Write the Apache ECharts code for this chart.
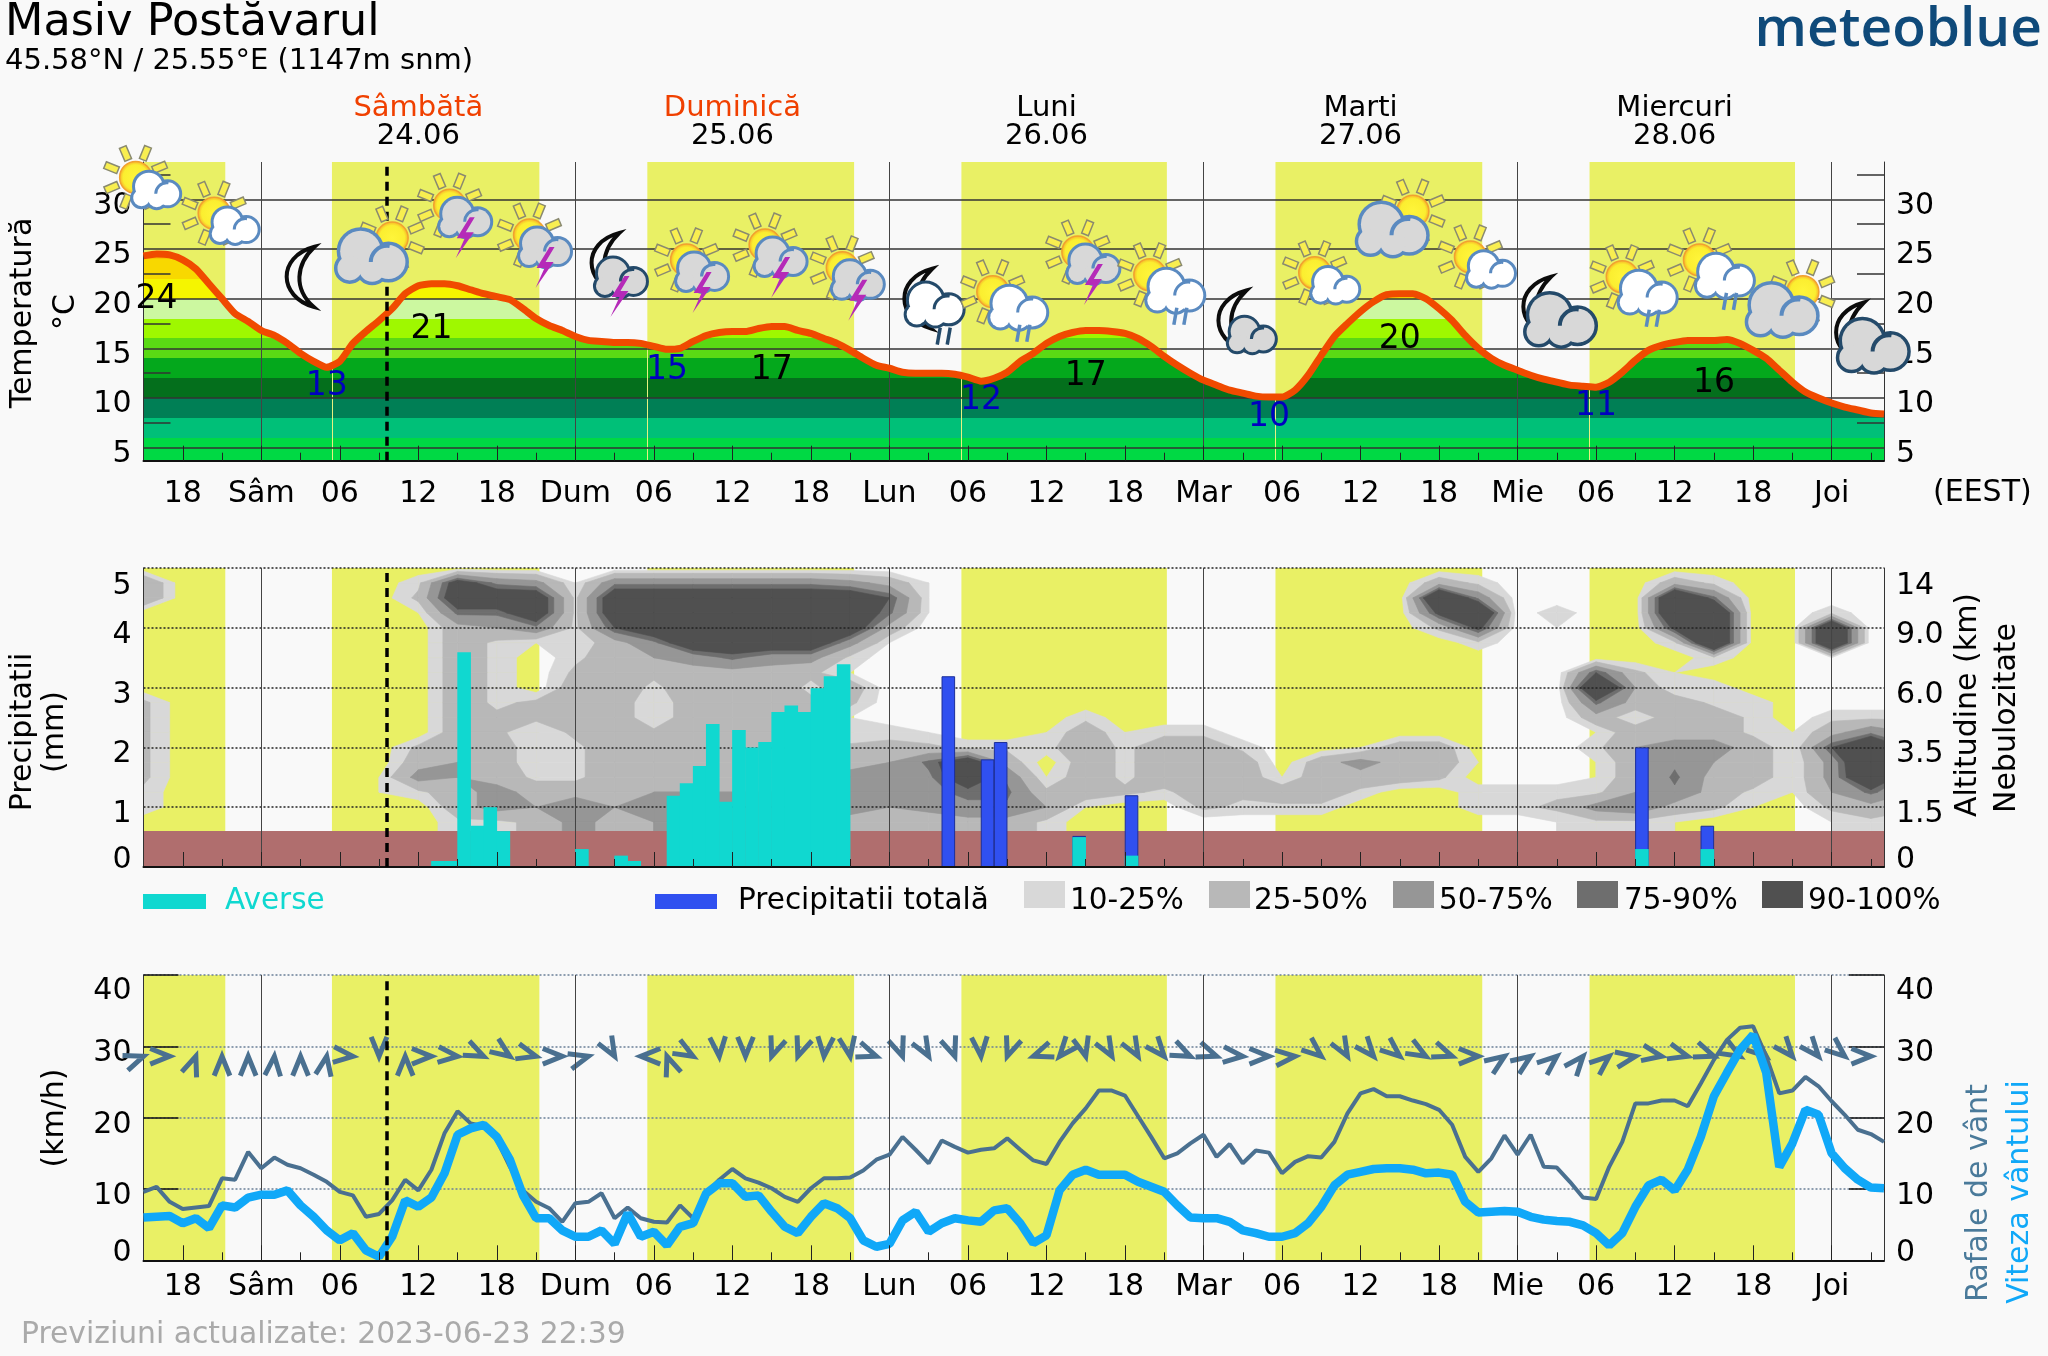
<!DOCTYPE html>
<html><head><meta charset="utf-8">
<style>html,body{margin:0;padding:0;background:#f9f9f9}#c{width:2048px;height:1356px}</style>
<script src="https://cdn.jsdelivr.net/npm/echarts@6/dist/echarts.min.js"></script>
</head><body><div id="c"></div>
<script>
const FONT='"DejaVu Sans"';
const firstHour=15, lastHour=148;
const tickHours=[18,24,30,36,42,48,54,60,66,72,78,84,90,96,102,108,114,120,126,132,138,144];
const tickNames=["18","Sâm","06","12","18","Dum","06","12","18","Lun","06","12","18","Mar","06","12","18","Mie","06","12","18","Joi"];
const minorHours=[21,27,33,39,45,51,57,63,69,75,81,87,93,99,105,111,117,123,129,135,141,147];
const dayHours=[24,48,72,96,120,144];
const nowHour=33.6;
const daylight=[[15,21.25],[29.4,45.25],[53.5,69.3],[77.5,93.2],[101.5,117.3],[125.5,141.2]];
const sunrise=[29.4,53.5,77.5,101.5,125.5];
const headerHours=[36,60,84,108,132];
const headerDays=["Sâmbătă","Duminică","Luni","Marti","Miercuri"];
const headerDates=["24.06","25.06","26.06","27.06","28.06"];
const headerColors=["#f04000","#f04000","#000","#000","#000"];

const temperature=[24.3,24.5,24.4,23.9,23,21.5,20,18.5,17.7,16.8,
16.3,15.5,14.5,13.7,13.1,13.7,15.5,16.7,17.8,19,
20.5,21.3,21.5,21.5,21.3,20.9,20.5,20.2,19.9,19,
18,17.3,16.8,16.2,15.8,15.7,15.6,15.6,15.5,15.2,
14.9,15,15.7,16.3,16.6,16.7,16.7,17,17.2,17.2,
16.8,16.5,16,15.5,14.8,14,13.3,13,12.6,12.5,
12.5,12.5,12.4,12.1,11.7,12,12.6,13.7,14.5,15.5,
16.2,16.6,16.8,16.8,16.7,16.5,16,15.2,14.2,13.3,
12.5,11.8,11.3,10.8,10.5,10.2,10.1,10.1,10.8,12.3,
14.3,16.2,17.5,18.7,19.7,20.4,20.5,20.5,20,19,
17.8,16.3,15,14,13.3,12.8,12.3,11.9,11.6,11.3,
11.2,11.1,11.6,12.6,13.8,14.8,15.3,15.6,15.8,15.8,
15.8,15.9,15.5,14.8,14,12.8,11.6,10.6,10,9.5,
9.1,8.8,8.5,8.4];
const tempEdges=[6,8,10,12,14,16,18,20,22,24];
const tempColors=["#00d944","#00c078","#007f55","#046f1c","#04a81c","#5ada14","#9ff800","#ccf8a0","#f5f500","#f8d800","#f8c400"];
const labelHours=[16,29,37,55,63,79,87,101,111,126,135];
const labelLevels=[20.2,11.5,17.2,13.1,13.1,10.1,12.5,8.4,16.2,9.5,11.8];
const labelTexts=["24","13","21","15","17","12","17","10","20","11","16"];
const labelColors=["#000","#0000c0","#000","#0000c0","#000","#0000c0","#000","#0000c0","#000","#0000c0","#000"];
const iconHours=[14.4,20.4,27,34,38.4,44.5,50.3,56.5,62.5,68.4,74.2,79.9,86.4,91.9,98.2,104.5,112,116.4,121.5,128,133.9,141.8,145.4];
const iconLevels=[32.2,28.6,22.2,26.1,29.4,26.4,23.6,23.9,25.4,23.1,20,20.7,24.7,22.4,17.8,22.6,28.8,24.2,19.2,22.2,23.9,20.7,16.6];
const iconTypes=["A","A","B","C","D","D","E","D","D","D","F","G","D","G","H","A","C","A","I","G","G","C","I"];

const showerHours=[37,38,39,40,41,42,48,51,52,55,56,57,58,59,60,61,62,63,64,65,66,67,68,86,90,129,134];
const showerValues=[0.1,0.1,3.59,0.69,1,0.6,0.3,0.19,0.1,1.19,1.4,1.69,2.39,1.09,2.29,2,2.09,2.59,2.7,2.59,2.99,3.19,3.39,0.5,0.19,0.3,0.3];
const totalHours=[76,79,80,86,90,129,134];
const totalValues=[3.19,1.8,2.09,0.52,1.2,2,0.69];
const terrainTop=0.6;
const precipTicks=[0,1,2,3,4,5];
const precipLabelAt=[0.12,0.89,1.89,2.88,3.88,4.7];
const precipLabels=["0","1","2","3","4","5"];
const altitudeLabels=["0","1.5","3.5","6.0","9.0","14"];
const windTicks=[0,10,20,30,40];
const windLabelAt=[1,9,19,29.1,37.7];
const windLabels=["0","10","20","30","40"];

const cloudStartHour=15, cloudStepHour=3;
const cloudRowLevels=[5,4.75,4.5,4.25,4,3.75,3.5,3.25,3,2.75,2.5,2.25,2,1.75,1.5,1.25,1,0.75,0.5];
const cloudRows=[
"0000000 00000 0000000 0000 000000 00000 000000 000000",
"5000000 2b761 7777776 4100 000000 00004 200004 200000",
"5000000 3ccc2 ccccccc 9100 000000 0000f 70000f 800000",
"0000000 188c2 ccccccc 8100 000000 0000a f0200f f00200",
"0000000 04572 9cccccc 4000 000000 00003 a0100a f00f00",
"0000000 04211 47cccc6 1000 000000 00000 200002 f00f00",
"0000000 04202 4568662 0000 000000 00000 000000 200100",
"0000000 04203 4344431 0000 000000 00000 000931 000000",
"0000000 04204 4244424 0000 000000 00000 000f51 200000",
"3000000 04234 4144333 0000 000000 00000 000844 220000",
"3000000 04334 4144441 0000 020000 00000 000414 420222",
"3000000 04313 4344441 2100 141220 00000 000144 421475",
"3000000 34412 4444443 3322 242442 00144 000256 6419f8",
"3000000 45412 4444444 58c4 042444 04644 100147 5416f7",
"3000001 65422 4444456 57c7 142444 14443 000148 4416e6",
"2000001 24644 4555567 5788 343243 44200 222257 421585",
"2000000 04657 5666666 5677 510032 22000 223674 310343",
"0000000 02236 4555554 3344 200000 00000 001221 000121",
"0000000 02236 4555554 3344 200000 00000 001221 000121"];
const cloudThresholds=[1,2.5,5,7.5,9];
const cloudColors=["#d8d8d8","#b8b8b8","#969696","#6e6e6e","#505050"];
const cloudLegend=["10-25%","25-50%","50-75%","75-90%","90-100%"];

const gusts=[9.6,10.3,8.2,7.2,7.4,7.6,11.5,11.3,15.2,12.9,
14.4,13.4,12.9,12,11,9.6,9.1,6.1,6.5,8.4,
11.3,9.8,12.7,17.8,20.9,19.2,18.8,16.9,13.1,9.8,
8.2,7.3,5.4,8,8.2,9.4,5.9,7.4,5.9,5.4,
5.3,7.7,5.9,9.4,11.3,12.8,11.5,10.9,10.1,8.9,
8.2,10.1,11.5,11.5,11.6,12.6,14.1,14.8,17.3,15.5,
13.6,16.8,15.9,15.1,15.5,15.7,17.1,15.5,14,13.5,
16.6,19.2,21.3,23.8,23.8,23.1,20.2,17.3,14.3,15,
16.4,17.6,14.5,16.3,13.6,15.4,15.1,12.2,13.8,14.6,
14.4,16.6,20.6,23.4,24,23,23,22.4,21.9,21.1,
19,14.5,12.4,14.3,17.5,14.8,17.6,13.1,13,11,
8.8,8.6,13.1,16.6,22,22,22.4,22.4,21.6,24.8,
28.1,30.9,32.6,32.8,28.6,23.4,23.8,25.7,24.4,22.3,
20.4,18.3,17.7,16.6];
const windSpeed=[6,6.1,6.2,5.2,5.9,4.5,7.7,7.4,8.8,9.2,
9.2,9.8,7.7,6.1,4.2,2.8,3.8,1.4,0.5,3.3,
8.4,7.5,8.8,12.2,17.6,18.5,19,17.3,14.1,9.1,
5.9,5.9,4.2,3.3,3.3,4.2,2.3,6.6,3.3,4,
2.1,4.7,5.2,9.4,10.8,10.8,8.9,9.1,6.8,4.7,
3.8,6.1,8,7.3,5.9,2.8,1.9,2.3,5.6,6.8,
4,5.2,5.9,5.6,5.4,7,7.3,5.2,2.4,3.5,
9.8,12,12.7,12,12,12,11,10.3,9.6,7.7,
6,5.9,5.9,5.4,4.2,3.8,3.3,3.3,3.8,5.2,
7.5,10.5,12,12.4,12.8,12.9,12.9,12.7,12.2,12.3,
12,8.2,6.7,6.8,6.9,6.8,6.1,5.7,5.5,5.4,
4.9,3.8,2.1,3.8,7.5,10.5,11.3,9.8,12.7,17.3,
23,26.3,29.5,31.6,26.3,13.1,16.4,21.1,20.4,15,
12.9,11.3,10.2,10.1];
const arrowLevel=28.6;
const arrowDirs=[20,0,70,90,90,85,90,80,-5,-90,90,0,-5,-25,-35,-15,0,15,-60,180,110,-30,-85,-90,-110,-110,-95,-80,-20,-70,-60,-70,-85,-110,
200,-130,-75,-60,-60,-50,-25,-20,-5,0,5,-40,-60,-50,-40,-30,-20,0,35,35,40,50,40,10,-10,-15,-20,-30,-40,-50,-50,-40,0];

const hourly=a=>a.map((v,i)=>[firstHour+i,v]);
const BLUE="#5a8ac0",DARK="#244a6a",GREY="#d8d8d8",PURPLE="#b52ab8";

function sun(cx,cy){
  const out=[];
  for(let k=0;k<8;k++){
    const a=(k*45+22)*Math.PI/180,c=Math.cos(a),s=Math.sin(a);
    const P=(r,w)=>[cx+r*c-w*s,cy+r*s+w*c];
    out.push({type:'polygon',shape:{points:[P(19,3.6),P(33,3.6),P(33,-3.6),P(19,-3.6)]},style:{fill:'#f8ee50',stroke:'#8a8a70',lineWidth:1.5}});
  }
  out.push({type:'circle',shape:{cx,cy,r:16},style:{fill:{type:'radial',x:.5,y:.5,r:.5,colorStops:[{offset:0,color:'#fff53a'},{offset:.75,color:'#fbee30'},{offset:1,color:'#f6a828'}]},stroke:'#f2a030',lineWidth:1.5}});
  return out;
}
function cloud(cx,cy,w,fill,stroke){
  const cs=[[-.17,-.13,.30],[.24,.03,.25],[-.33,.12,.18],[.0,.13,.19]];
  const out=[];
  cs.forEach(c=>out.push({type:'circle',shape:{cx:cx+c[0]*w,cy:cy+c[1]*w,r:c[2]*w},style:{fill:stroke,stroke:stroke,lineWidth:w>60?7:6}}));
  cs.forEach(c=>out.push({type:'circle',shape:{cx:cx+c[0]*w,cy:cy+c[1]*w,r:c[2]*w},style:{fill:fill}}));
  out.push({type:'arc',shape:{cx:cx+.22*w,cy:cy+.03*w,r:.24*w,startAngle:Math.PI*1.0,endAngle:Math.PI*1.55},style:{stroke:stroke,lineWidth:w>60?4:3,fill:null}});
  return out;
}
function moon(cx,cy){
  const d=`M${cx+14},${cy-30} C${cx-24},${cy-20} ${cx-22},${cy+20} ${cx+13},${cy+30} C${cx-7},${cy+12} ${cx-5},${cy-12} ${cx+14},${cy-30} Z`;
  return [{type:'path',shape:{pathData:d},style:{fill:'#f9f9f9',stroke:'#0c0c0c',lineWidth:4}}];
}
function bolt(cx,cy){
  const p=[[6,-20],[-7,1],[1,1],[-8,21],[10,-5],[2,-5],[11,-20]].map(q=>[cx+q[0],cy+q[1]]);
  return [{type:'polygon',shape:{points:p},style:{fill:PURPLE}}];
}
function rain(cx,cy,col){
  return [[-5,-8,-8,9],[5,-8,2,9]].map(q=>({type:'line',shape:{x1:cx+q[0],y1:cy+q[1],x2:cx+q[2],y2:cy+q[3]},style:{stroke:col,lineWidth:3.5}}));
}
const iconBuilders={
  A:()=>[...sun(0,0),...cloud(21,15,46,'#fff',BLUE)],
  G:()=>[...sun(0,0),...cloud(26,19,56,'#fff',BLUE),...rain(32,41,BLUE)],
  C:()=>[...sun(0,0),...cloud(-20,22,68,GREY,BLUE)],
  D:()=>[...sun(0,0),...cloud(16,15,50,GREY,BLUE),...bolt(14,32)],
  B:()=>moon(0,0),
  E:()=>[...moon(0,0),...cloud(16,17,50,GREY,DARK),...bolt(13,33)],
  F:()=>[...moon(0,0),...cloud(17,9,56,'#fff',DARK),...rain(27,37,DARK)],
  H:()=>[...moon(0,0),...cloud(20,17,46,GREY,DARK)],
  I:()=>[...moon(0,0),...cloud(24,17,68,GREY,DARK)]
};

function contourPolys(level){
  const polys=[],grid=cloudRows.map(r=>r.replace(/ /g,'').split('').map(c=>parseInt(c,16)));
  for(let r=0;r<grid.length-1;r++){
    for(let c=0;c<grid[r].length-1;c++){
      const x0=cloudStartHour+c*cloudStepHour,x1=x0+cloudStepHour,y0=cloudRowLevels[r],y1=cloudRowLevels[r+1];
      const q=[[x0,y0,grid[r][c]],[x1,y0,grid[r][c+1]],[x1,y1,grid[r+1][c+1]],[x0,y1,grid[r+1][c]]];
      const pts=[];
      for(let k=0;k<4;k++){
        const a=q[k],b=q[(k+1)%4],ia=a[2]>=level,ib=b[2]>=level;
        if(ia)pts.push([a[0],a[1]]);
        if(ia!==ib){const t=(level-a[2])/(b[2]-a[2]);pts.push([a[0]+t*(b[0]-a[0]),a[1]+t*(b[1]-a[1])]);}
      }
      if(pts.length>=3)polys.push(pts);
    }
  }
  return polys;
}

const tickStyle={color:'#222',width:1};
function xAxes(grid,labels,margin){
  const base={type:'value',gridIndex:grid,min:firstHour,max:lastHour,position:'bottom',z:5,splitLine:{show:false}};
  return [
    {...base,axisLine:{show:true,onZero:false,lineStyle:{color:'#111',width:2}},
      axisTick:{show:true,inside:true,length:15,customValues:tickHours,lineStyle:tickStyle},
      axisLabel:{show:labels,customValues:tickHours,formatter:v=>tickNames[tickHours.indexOf(v)],margin:margin,fontFamily:FONT,fontSize:30,color:'#000',hideOverlap:false}},
    {...base,axisLine:{show:false,onZero:false},axisTick:{show:true,inside:true,length:8,customValues:minorHours,lineStyle:tickStyle},axisLabel:{show:false}}
  ];
}
const yLabel={fontFamily:FONT,fontSize:30,color:'#000',margin:12,verticalAlign:'middle'};
const lineAxis={show:true,onZero:false,lineStyle:{color:'#333',width:1}};
const tempMin=3.7,tempMax=33.75;
const tempTicks=[5,10,15,20,25,30],tempMinor=[7.5,12.5,17.5,22.5,27.5,32.5];
const tempLabelAt=[4.35,9.35,14.35,19.35,24.35,29.35],tempLabels=["5","10","15","20","25","30"];
const lab=(at,names)=>({...yLabel,customValues:at,formatter:v=>names[at.indexOf(v)]});
const minorTick={show:true,inside:true,length:27,customValues:tempMinor,lineStyle:{color:'#333',width:1.5}};
const tickLong={show:true,inside:true,length:35,customValues:windTicks,lineStyle:{color:'#111',width:1.5}};
const yAxes=[
 {type:'value',gridIndex:0,position:'left',min:tempMin,max:tempMax,z:3,axisLine:lineAxis,axisTick:{show:false,customValues:tempTicks},
  axisLabel:lab(tempLabelAt,tempLabels),splitLine:{show:true,lineStyle:{color:'#333',width:1.5}}},
 {type:'value',gridIndex:0,position:'right',min:tempMin,max:tempMax,z:3,axisLine:lineAxis,axisTick:{show:false,customValues:tempTicks},
  axisLabel:lab(tempLabelAt,tempLabels),splitLine:{show:false}},
 {type:'value',gridIndex:0,position:'left',min:tempMin,max:tempMax,z:3,axisLine:{show:false,onZero:false},axisTick:minorTick,axisLabel:{show:false},splitLine:{show:false}},
 {type:'value',gridIndex:0,position:'right',min:tempMin,max:tempMax,z:3,axisLine:{show:false,onZero:false},axisTick:minorTick,axisLabel:{show:false},splitLine:{show:false}},
 {type:'value',gridIndex:1,position:'left',min:0,max:5,z:3,axisLine:lineAxis,axisTick:{show:false,customValues:precipTicks},
  axisLabel:lab(precipLabelAt,precipLabels),splitLine:{show:true,lineStyle:{color:'#222',width:1.5,type:[2,2]}}},
 {type:'value',gridIndex:1,position:'right',min:0,max:5,z:3,axisLine:lineAxis,axisTick:{show:false,customValues:precipTicks},
  axisLabel:lab(precipLabelAt,altitudeLabels),splitLine:{show:false}},
 {type:'value',gridIndex:2,position:'left',min:0,max:40,z:3,axisLine:lineAxis,axisTick:tickLong,
  axisLabel:lab(windLabelAt,windLabels),splitLine:{show:true,lineStyle:{color:'#6a7f98',width:1.5,type:[2,2]}}},
 {type:'value',gridIndex:2,position:'right',min:0,max:40,z:3,axisLine:lineAxis,axisTick:tickLong,
  axisLabel:lab(windLabelAt,windLabels),splitLine:{show:false}}
];
const panelY=[0,4,6];
function decor(panel){
  const xi=panel*2,yi=panelY[panel];
  return [
   {type:'line',xAxisIndex:xi,yAxisIndex:yi,data:[],z:1,silent:true,
    markArea:{z:1,silent:true,animation:false,itemStyle:{color:'#e9f065',opacity:1},data:daylight.map(d=>[{xAxis:d[0]},{xAxis:d[1]}])}},
   {type:'line',xAxisIndex:xi,yAxisIndex:yi,data:[],z:4,silent:true,
    markLine:{z:3.8,silent:true,animation:false,symbol:'none',label:{show:false},lineStyle:{color:'#444',width:1,type:'solid'},data:dayHours.map(h=>({xAxis:h}))}},
   {type:'line',xAxisIndex:xi,yAxisIndex:yi,data:[],z:6,silent:true,
    markLine:{z:6,silent:true,animation:false,symbol:'none',label:{show:false},lineStyle:{color:'#000',width:3.5,type:[9,6]},data:[{xAxis:nowHour}]}}
  ];
}
const barW=13.6;
const series=[
  ...decor(0),...decor(1),...decor(2),
  {type:'line',id:'tempArea',xAxisIndex:0,yAxisIndex:0,z:2,data:hourly(temperature),symbol:'none',smooth:0.2,lineStyle:{width:0},areaStyle:{opacity:1}},
  {type:'line',xAxisIndex:0,yAxisIndex:0,data:[],z:2.5,silent:true,
    markLine:{z:2.5,silent:true,animation:false,symbol:'none',label:{show:false},lineStyle:{color:'#e8f080',width:1,type:'solid'},
      data:sunrise.map(h=>[{xAxis:h,yAxis:tempMin},{xAxis:h,yAxis:temperature[Math.round(h)-firstHour]}])}},
  {type:'line',xAxisIndex:0,yAxisIndex:0,z:4.5,data:hourly(temperature),symbol:'none',smooth:0.2,lineStyle:{color:'#f04a00',width:7}},
  {type:'custom',xAxisIndex:0,yAxisIndex:0,z:5,silent:true,data:labelHours.map((h,i)=>[h,labelLevels[i]]),
    renderItem:(p,api)=>{const c=api.coord([api.value(0),api.value(1)]);
      return {type:'text',x:c[0],y:c[1]+3,style:{text:labelTexts[p.dataIndex],fill:labelColors[p.dataIndex],font:'33px '+FONT,align:'center',verticalAlign:'middle'}};}},
  {type:'custom',xAxisIndex:0,yAxisIndex:0,z:7,silent:true,data:iconHours.map((h,i)=>[h,iconLevels[i]]),
    renderItem:(p,api)=>{const c=api.coord([api.value(0),api.value(1)]);
      return {type:'group',x:c[0],y:c[1],children:iconBuilders[iconTypes[p.dataIndex]]()};}},
  {type:'custom',xAxisIndex:0,yAxisIndex:0,z:7,silent:true,data:headerHours.map(h=>[h,39.5]),
    renderItem:(p,api)=>{const c=api.coord([api.value(0),api.value(1)]);
      return {type:'group',children:[
        {type:'text',x:c[0],y:c[1]+3.5,style:{text:headerDays[p.dataIndex],fill:headerColors[p.dataIndex],font:'29px '+FONT,align:'center',verticalAlign:'middle'}},
        {type:'text',x:c[0],y:c[1]+31.5,style:{text:headerDates[p.dataIndex],fill:'#000',font:'29px '+FONT,align:'center',verticalAlign:'middle'}}]};}},
  {type:'custom',xAxisIndex:2,yAxisIndex:4,z:2,silent:true,clip:true,data:cloudThresholds.map((t,i)=>[i]),
    renderItem:(p,api)=>{const col=cloudColors[p.dataIndex];
      return {type:'group',children:contourPolys(cloudThresholds[p.dataIndex]).map(poly=>({type:'polygon',shape:{points:poly.map(q=>api.coord(q))},style:{fill:col,stroke:col,lineWidth:.6}}))};}},
  {type:'line',xAxisIndex:2,yAxisIndex:4,data:[],z:2.5,silent:true,
    markArea:{z:2.5,silent:true,animation:false,itemStyle:{color:'#b06e6e',opacity:1},data:[[{yAxis:0},{yAxis:terrainTop}]]}},
  {type:'bar',xAxisIndex:2,yAxisIndex:4,z:4,barWidth:barW,barGap:'-100%',data:totalHours.map((h,i)=>[h+.5,totalValues[i]]),itemStyle:{color:'#3050f0',borderColor:'#1c2f9a',borderWidth:1}},
  {type:'bar',xAxisIndex:2,yAxisIndex:4,z:4.1,barWidth:barW,barGap:'-100%',data:showerHours.map((h,i)=>[h+.5,showerValues[i]]),itemStyle:{color:'#10d8d0'}},
  {type:'custom',xAxisIndex:4,yAxisIndex:6,z:3.5,silent:true,data:arrowDirs.map((d,i)=>[firstHour+2*i,arrowLevel,d]),
    renderItem:(p,api)=>{const c=api.coord([api.value(0),api.value(1)]),th=api.value(2)*Math.PI/180,L=21,A=22*Math.PI/180;
      const leg=s=>[c[0]-L*Math.cos(th+s*A),c[1]+L*Math.sin(th+s*A)];
      return {type:'polyline',shape:{points:[leg(1),c,leg(-1)]},style:{stroke:'#4a7090',lineWidth:5,fill:null}};}},
  {type:'line',xAxisIndex:4,yAxisIndex:6,z:4.2,data:hourly(gusts),symbol:'none',lineStyle:{color:'#4a7090',width:4}},
  {type:'line',xAxisIndex:4,yAxisIndex:6,z:4.5,data:hourly(windSpeed),symbol:'none',lineStyle:{color:'#10a8f8',width:8.5}}
];
const areaIdx=series.findIndex(s=>s.id==='tempArea');
const pieces=tempColors.map((c,i)=>{const p={color:c};if(i>0)p.gte=tempEdges[i-1];if(i<tempEdges.length)p.lt=tempEdges[i];return p;});
const T=(text,x,y,size,fill)=>({type:'text',x,y:y+3,z:20,style:{text,fill,font:size+'px '+FONT,align:'left',verticalAlign:'middle'}});
const R=(x,y,w,h,fill)=>({type:'rect',z:20,shape:{x,y,width:w,height:h},style:{fill}});
const V=(text,x,y,size,fill)=>({type:'text',x,y,z:20,rotation:Math.PI/2,style:{text,fill,font:size+'px '+FONT,align:'center',verticalAlign:'middle'}});
const legendSwatchX=[1024,1209,1393,1577,1762],legendTextX=[1070,1254,1439,1624,1808];
const graphics=[
  T("Masiv Postăvarul",5,20,44.5,'#000'),
  T("45.58°N / 25.55°E (1147m snm)",5,58,29,'#000'),
  {type:'text',x:2042,y:30,z:20,style:{text:"meteoblue",fill:'#0f4a7a',font:'600 55px "Open Sans"',align:'right',verticalAlign:'middle'}},
  T("(EEST)",1933,490,30,'#000'),
  V("Temperatură",23,313,30,'#000'),V("°C",66,312,30,'#000'),
  V("Precipitatii",23,732,30,'#000'),V("(mm)",55,732,30,'#000'),
  V("Altitudine (km)",1968,705,30,'#000'),V("Nebulozitate",2007,718,30,'#000'),
  V("(km/h)",55,1118,30,'#000'),
  V("Rafale de vânt",1979,1193,30,'#4a7a9a'),V("Viteza vântului",2020,1192,30,'#10a8f8'),
  R(143,894,63,15,'#10d8d0'),T("Averse",225,898,29.5,'#10d8d0'),
  R(655,894,62,15,'#3050f0'),T("Precipitatii totală",738,898,29.5,'#000'),
  ...cloudLegend.flatMap((t,i)=>[R(legendSwatchX[i],881,41,27,cloudColors[i]),T(t,legendTextX[i],898,29.5,'#000')]),
  T("Previziuni actualizate: 2023-06-23 22:39",21,1332,29.8,'#aaa')
];
const chart=echarts.init(document.getElementById('c'),null,{renderer:'canvas'});
chart.setOption({
  animation:false,backgroundColor:'#f9f9f9',
  grid:[{left:143.5,right:164,top:162,height:298.7},{left:143.5,right:164,top:568,height:299},{left:143.5,right:164,top:975,height:285.3}],
  xAxis:[...xAxes(0,true,19),...xAxes(1,false,0),...xAxes(2,true,12)],
  yAxis:yAxes,
  visualMap:[{type:'piecewise',show:false,seriesIndex:areaIdx,dimension:1,pieces}],
  series,graphic:graphics
});
</script></body></html>
